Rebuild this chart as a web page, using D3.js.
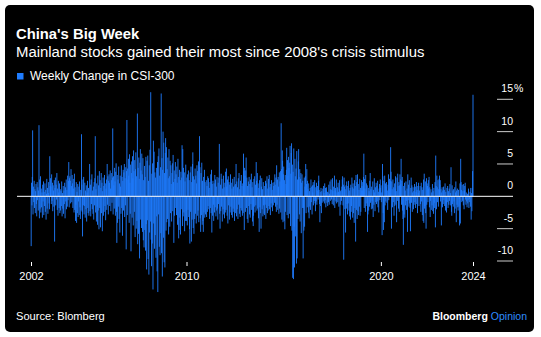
<!DOCTYPE html>
<html><head><meta charset="utf-8">
<script src="https://cdn.jsdelivr.net/npm/d3@7"></script>
<style>
html,body{margin:0;padding:0;background:#fff;}
svg{display:block;}
text{font-family:"Liberation Sans",Arial,sans-serif;}
</style></head>
<body><svg id="c" width="541" height="337"></svg>
<script>
// ---- data: weekly % change in CSI-300, one array per year (Fridays) ----
const years = [2002,2003,2004,2005,2006,2007,2008,2009,2010,2011,2012,2013,2014,2015,2016,2017,2018,2019,2020,2021,2022,2023,2024];
const w2002 = [-7.7,2.1,-1.4,3.0,10.2,-2.8,1.5,-0.9,2.4,-1.8,1.1,-2.6,0.8, 1.9,-1.2,-3.1,2.2,-0.6,1.4,-2.2,0.9,11.0,-3.4,2.6,-1.9,3.1, -2.5,1.2,-1.7,0.6,-3.3,1.8,-0.8,2.3,-2.9,0.7,-1.5,2.0,-2.4, 1.0,-3.6,0.4,2.7,-1.9,1.3,-2.7,0.5,2.2,-1.1,-2.0,6.2,1.6];
const w2003 = [2.8,1.5,-1.2,3.4,-0.7,2.1,-2.3,1.7,0.9,-1.6,2.5,-7.0,1.3, 2.9,-1.4,1.8,-0.5,3.6,-2.1,1.2,-3.0,2.4,0.6,-1.8,2.0,-2.6, 1.1,-2.2,0.8,-1.5,2.3,-3.1,0.5,-1.9,1.6,-2.7,0.9,-1.2,2.1, -3.4,1.4,-0.8,2.6,-2.0,1.0,-1.6,3.2,-0.6,2.4,5.3,-1.7,2.8];
const w2004 = [3.1,2.4,-1.1,4.2,1.6,-0.9,3.3,2.0,-1.8,2.7,1.2,-2.5,3.5, -2.1,1.4,-3.8,-1.3,2.2,-4.1,0.7,-2.6,1.9,-3.2,-0.8,1.5,-2.9, 2.3,-1.7,-3.5,1.0,-2.2,9.6,1.8,-2.4,-6.2,2.6,-1.4,3.0,-2.8, -1.5,2.1,-3.3,0.9,-2.0,1.7,-3.9,0.6,2.4,-1.8,-2.6,1.3,-3.0];
const w2005 = [5.0,-2.3,1.8,-3.1,2.6,-1.2,3.4,-2.0,0.9,-2.7,1.5,-3.6,2.2, -1.4,2.8,9.3,-2.5,1.1,-3.9,2.0,-1.6,-4.4,3.2,-2.2,1.7,-5.1, 3.9,-1.8,2.5,-4.8,1.3,3.6,-2.6,2.1,-5.4,0.8,2.9,-3.0,1.6, -2.4,3.3,-1.5,2.0,-3.7,1.2,2.6,-2.1,5.0,-1.3,3.1,-2.8,2.4];
const w2006 = [3.4,2.1,-1.5,4.0,1.2,-2.3,3.6,2.5,-1.0,2.9,10.5,-2.8,3.1, 1.7,-1.9,4.4,2.3,-3.0,3.8,5.1,-2.4,-7.2,3.3,-4.1,2.6,-1.6, 4.6,-3.5,2.0,-5.6,3.2,1.5,-2.7,4.8,-1.8,3.0,-6.1,2.4,4.1, -2.2,3.7,5.0,-3.2,2.8,-1.4,4.5,-8.2,3.9,11.8,-2.9,4.3,2.6];
const w2007 = [5.8,3.2,-4.1,6.5,2.1,-2.7,4.9,-8.5,3.6,5.4,-3.3,6.2,2.8, -4.5,7.1,3.9,-2.4,5.6,-6.3,4.2,6.8,-5.0,3.1,-3.8,12.8,-7.4, 4.4,-5.8,6.0,2.7,-9.6,5.2,7.3,-3.6,4.0,-4.9,6.6,3.4,-5.5, 5.9,-6.8,2.5,-7.9,4.7,-5.2,3.0,-8.4,6.1,-4.3,-11.3,5.5,-3.7];
const w2008 = [6.3,-9.7,2.4,-12.1,4.8,-5.6,7.2,-3.9,16.1,-6.7,-10.8,3.5,-7.3, 5.1,-14.4,8.6,-4.2,6.9,-8.1,3.7,-6.0,2.9,-9.5,4.4,-3.1,-11.6, 5.3,-14.8,6.2,-2.8,7.4,-7.8,3.2,-9.1,4.5,-5.7,15.9,-8.8,5.9, -12.4,4.1,10.0,-6.4,8.3,-10.2,3.6,-11.0,6.7,9.0,-5.3,7.6,-4.0];
const w2009 = [4.2,-3.5,6.0,2.8,-5.9,7.3,3.1,-4.7,5.5,-2.6,4.8,1.9,-3.9, 3.6,5.1,-2.3,6.4,2.2,-7.2,4.0,-3.0,2.7,5.3,-1.8,3.4,-2.9, 4.6,2.1,-4.4,5.8,3.0,-6.5,-5.2,4.1,-3.3,2.5,-5.9,3.8,-2.0, 2.9,7.9,-4.6,7.3,-3.1,4.4,-2.5,3.7,-5.4,2.3,-3.8,4.9,-2.2];
const w2010 = [-3.8,2.9,-4.5,3.4,-2.1,4.0,-3.2,2.5,-5.1,-7.3,3.7,-2.4,4.6, -7.0,2.2,-3.6,5.0,6.8,-4.9,3.1,-5.8,2.6,-3.5,4.3,-2.7,3.2, -4.2,2.0,4.8,-3.0,3.9,-2.2,5.4,-4.0,2.8,9.3,4.5,-3.4,-5.5, 3.6,-2.9,5.2,-4.4,2.4,-3.8,-5.5,3.0,-2.5,4.1,-3.3,2.2,-2.8];
const w2011 = [2.5,-3.2,1.6,-2.4,3.1,-1.5,2.8,-2.0,1.3,-3.5,2.2,-1.8,3.4, -2.6,4.1,-5.6,1.9,-3.0,2.4,-1.3,-3.8,2.0,-2.5,3.3,-1.7,2.6, -3.1,1.5,-2.2,3.0,-1.9,-3.6,2.1,-1.2,2.9,8.1,-2.7,-5.0,1.8, -2.3,3.5,-1.6,2.7,-3.9,1.2,-2.0,3.2,-2.8,1.4,-3.4,2.1,-2.5];
const w2012 = [3.8,-2.1,4.3,1.5,-3.0,2.6,-4.2,3.1,-1.4,2.2,-3.6,1.8,-2.5, 3.4,-1.6,2.1,-2.9,1.2,-3.3,2.7,-1.9,1.5,-2.4,3.0,-3.8,1.7, -2.6,1.9,5.0,-3.1,2.3,-2.0,1.4,-3.5,2.8,-1.3,3.6,-2.7,1.1, -3.2,2.4,-1.8,3.3,-2.2,1.6,-3.0,2.0,-2.6,6.6,3.9,-5.2,4.4];
const w2013 = [3.2,-2.4,4.0,6.0,-1.8,2.9,-3.5,1.6,-4.1,2.3,-1.5,3.0,-2.8, 1.9,-3.3,2.6,-1.2,3.5,-2.1,1.4,-3.9,2.2,-4.6,-3.0,2.7,-1.6, 3.1,-2.5,1.8,-1.4,5.3,2.4,-2.2,3.6,-1.9,2.0,-3.4,1.3,-5.5, 2.5,-1.7,3.2,-2.6,-5.0,1.5,2.8,-2.0,1.1,-3.1,2.2,-1.4,-2.7];
const w2014 = [-2.9,1.6,-1.3,2.4,-3.5,2.0,-1.8,3.1,-2.6,1.2,-2.2,2.7,-1.5, 3.3,-2.0,1.4,-2.9,1.9,-1.1,2.5,-1.7,1.0,-2.3,2.1,-1.4,1.6, 2.2,-1.0,3.4,1.8,-1.6,2.9,-2.4,4.8,-1.3,2.6,-2.1,3.0,1.5, -2.7,3.7,-1.9,2.3,3.9,-2.5,11.3,4.2,-3.6,7.1,5.5,-4.0,3.4];
const w2015 = [4.6,-3.8,2.5,-5.1,3.3,-2.4,1.9,4.1,7.5,-2.9,5.6,3.2,-3.4, 6.1,4.4,-2.7,5.2,7.8,-4.6,3.5,6.7,8.2,-5.3,4.9,-12.6,3.8, -12.8,7.4,-4.7,-11.0,5.8,3.1,-6.2,4.3,-10.4,7.0,-9.6,2.6,-3.5, 5.4,7.3,3.0,-2.8,4.2,-3.9,2.7,3.6,-5.7,2.1,3.4,-1.8,2.4];
const w2016 = [-9.6,-1.8,-5.3,2.9,-4.7,1.5,3.1,5.0,-2.6,1.9,4.2,-1.7,2.4, 1.1,-2.5,2.0,-3.4,0.8,-1.6,1.3,-2.1,2.6,-0.9,1.5,-2.8,1.7, 0.6,2.2,-1.4,1.8,-0.7,2.5,-1.1,-2.3,1.4,-0.8,2.1,-1.3,0.9, 1.6,-0.5,2.4,3.2,1.0,-1.2,-4.0,0.7,-1.5,1.3,-2.6,0.8,-1.0];
const w2017 = [1.2,-0.8,1.6,0.5,-1.1,2.0,-0.6,1.3,-1.7,0.9,1.4,-1.0,0.7, -1.5,0.6,-0.9,1.8,-1.3,0.4,2.3,-0.7,1.1,2.6,-0.5,1.0,-1.2, 2.8,0.8,-1.4,1.5,-0.6,3.2,-1.8,0.9,1.3,-0.8,2.6,-1.1,0.6, 1.4,-0.9,2.1,0.7,-1.6,1.2,2.5,-3.0,0.8,-1.3,1.0,-0.7,1.5];
const w2018 = [2.6,3.1,-1.4,1.8,-9.8,2.9,1.5,-2.0,1.1,-5.6,1.7,-1.9,2.3, -1.2,-2.8,1.6,-1.1,2.4,-2.2,0.9,-3.1,1.3,-3.6,1.8,-2.4,-1.5, 2.9,1.4,-3.3,2.0,-2.6,1.2,-4.1,2.5,-1.8,1.6,-7.0,3.3,-2.1, 2.2,-3.5,3.4,-2.3,1.9,-2.9,1.0,-1.6,2.7,-3.0,1.3,-2.4,0.9];
const w2019 = [2.5,1.6,0.9,2.2,1.4,3.0,6.6,-1.8,2.7,1.2,-2.4,3.3,-1.5, 2.0,-1.1,1.7,-5.5,-2.8,1.3,-2.2,0.8,-1.6,2.4,3.6,-1.0,1.1, -2.0,1.5,-0.7,-1.9,2.3,-3.2,1.0,-1.3,2.8,0.6,-2.3,1.4,-0.9, 2.1,-1.2,1.6,-0.8,2.4,-1.7,0.7,-2.5,1.2,1.9,-0.6,2.6,1.3];
const w2020 = [1.7,-0.9,0.6,-6.0,5.0,3.1,-2.6,-5.2,2.4,-4.0,3.2,-1.4,2.0, -0.8,1.5,2.2,-1.0,0.9,-2.1,1.8,3.4,-0.6,1.2,2.7,0.5,2.4, 7.6,3.8,-5.0,2.3,1.1,-1.7,2.6,-0.9,1.4,-3.0,2.0,-1.5,1.2, 3.1,-1.3,0.8,-4.0,2.9,-0.7,3.5,1.6,-1.9,2.2,-2.4,1.7,3.4];
const w2021 = [2.6,1.9,5.8,-1.3,2.4,3.0,-2.2,-3.5,-7.5,1.6,-2.8,2.1,-3.3, 0.9,-1.4,2.3,-0.7,-2.1,1.2,-5.5,3.4,-0.6,1.8,-1.6,2.5,-1.1, -1.8,-5.4,1.3,2.9,-1.0,1.7,-2.4,0.6,1.4,-2.0,0.8,-1.3,1.9, -0.9,1.5,-1.8,0.7,2.2,-1.2,1.0,-2.6,1.6,0.5,2.1,-1.5,0.9];
const w2022 = [1.6,-1.2,-2.4,2.1,-0.8,1.4,-2.9,1.0,-3.8,2.6,-4.1,3.5,-1.9, -1.5,2.3,-2.6,-5.0,2.8,-1.3,2.0,1.6,-0.9,2.5,1.2,3.0,-1.7, 1.4,-3.2,-0.7,1.1,-2.1,0.6,-1.4,1.9,-2.3,0.8,-2.7,1.3,-1.0, -1.8,2.2,-4.8,6.3,1.6,-2.0,3.2,1.4,-0.9,2.5,-1.6,1.1,2.7];
const w2023 = [3.2,1.8,2.5,-0.8,1.1,-4.5,0.6,1.4,-1.7,0.9,-1.2,1.5,-0.6, 1.0,-1.5,2.0,-2.2,0.7,-1.1,-2.5,1.3,-0.9,1.6,-1.8,0.8,-1.3, 1.2,-0.7,1.9,-1.4,0.5,4.5,-2.4,-3.0,1.7,-1.2,0.9,-1.6,1.1, -0.8,-2.6,1.4,-1.9,0.6,2.3,-4.0,0.9,-1.3,1.2,-1.7,-2.2,1.0];
const w2024 = [-1.6,-0.4,-4.5,2.0,-4.2,5.8,2.2,1.0,-0.9,1.8,-0.7,0.8,-1.4, 1.9,-2.0,0.9,1.6,2.1,-0.5,-1.3,0.6,-0.8,-1.7,0.4,-1.1,-0.6, 1.2,-1.8,-0.9,-0.4,0.7,-1.6,1.3,-3.6,0.5,-2.3,1.3,3.9,15.7];
const weekly = [w2002,w2003,w2004,w2005,w2006,w2007,w2008,w2009,w2010,w2011,w2012,w2013,w2014,w2015,w2016,w2017,w2018,w2019,w2020,w2021,w2022,w2023,w2024];

const yTicks = [-10,-5,0,5,10,15];
const yTickLabels = ["-10","-5","0","5","10","15"];
const xTickDates = ["2002-01-01","2010-01-01","2020-01-01","2024-09-27"];
const xTickLabels = ["2002","2010","2020","2024"];

// ---- build rows ----
const rows = [];
years.forEach((y,i)=>{
  const first = d3.utcFriday.ceil(new Date(Date.UTC(y,0,1)));
  weekly[i].forEach((v,k)=>rows.push({date:d3.utcFriday.offset(first,k), v}));
});

const svg = d3.select("#c");
svg.append("rect").attr("x",5).attr("y",5).attr("width",529).attr("height",327).attr("rx",5).attr("fill","#000");

const x = d3.scaleUtc().domain([new Date(Date.UTC(2002,0,1)), new Date(Date.UTC(2024,8,27))]).range([31,473]);
const y = d3.scaleLinear().domain([-10,15]).range([261,99.3]);

// title
svg.append("text").attr("x",16).attr("y",39).attr("fill","#fff").attr("font-size",14.8).attr("font-weight","bold").text("China's Big Week");
svg.append("text").attr("x",16).attr("y",57).attr("fill","#fff").attr("font-size",14.9).text("Mainland stocks gained their most since 2008's crisis stimulus");
svg.append("rect").attr("x",17).attr("y",73).attr("width",6.5).attr("height",6.5).attr("fill","#1f7cff");
svg.append("text").attr("x",30).attr("y",80).attr("fill","#fff").attr("font-size",12).text("Weekly Change in CSI-300");

// bars
svg.append("g").selectAll("rect").data(rows).join("rect")
  .attr("x",d=>x(d.date)-0.45).attr("width",0.9)
  .attr("y",d=>y(Math.max(0,d.v)))
  .attr("height",d=>Math.abs(y(d.v)-y(0)))
  .attr("fill","#1f7cff");

// zero line
svg.append("line").attr("x1",17).attr("x2",513).attr("y1",y(0)).attr("y2",y(0)).attr("stroke","#fff").attr("stroke-width",1);

// y axis
const ya = svg.append("g");
yTicks.forEach((t,i)=>{
  if(t!==0) ya.append("line").attr("x1",497).attr("x2",513).attr("y1",y(t)).attr("y2",y(t)).attr("stroke","#ccc").attr("stroke-width",1);
  ya.append("text").attr("x",513).attr("y",y(t)-7).attr("text-anchor","end").attr("fill","#fff").attr("font-size",10.5).text(yTickLabels[i]);
  if(i===yTicks.length-1) ya.append("text").attr("x",514).attr("y",y(t)-7).attr("fill","#fff").attr("font-size",10.5).text("%");
});

// x axis
const xa = d3.axisBottom(x).tickValues(xTickDates.map(s=>new Date(s+"T00:00:00Z"))).tickFormat((d,i)=>xTickLabels[i]).tickSize(4).tickPadding(6);
const gx = svg.append("g").attr("transform","translate(0,262)").call(xa);
gx.select(".domain").remove();
gx.selectAll("line").attr("stroke","#fff");
gx.selectAll("text").attr("fill","#fff").attr("font-size",11).attr("font-family","Liberation Sans, Arial, sans-serif");

// footer
svg.append("text").attr("x",16).attr("y",320).attr("fill","#fff").attr("font-size",11.1).text("Source: Blomberg");
const br = svg.append("text").attr("x",527).attr("y",320).attr("text-anchor","end").attr("font-size",10.5).attr("font-weight","bold");
br.append("tspan").attr("fill","#fff").text("Bloomberg ");
br.append("tspan").attr("fill","#2f8cff").attr("font-weight","normal").text("Opinion");
</script></body></html>
